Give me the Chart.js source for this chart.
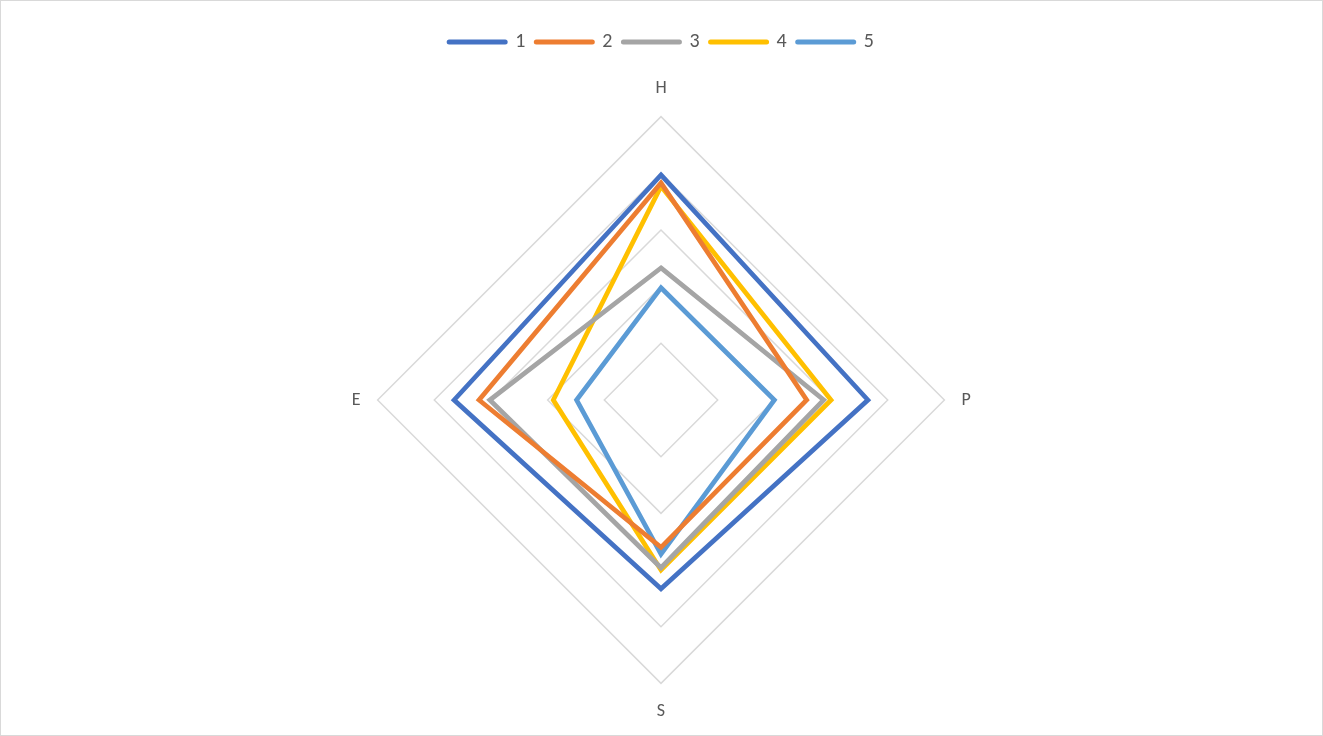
<!DOCTYPE html>
<html>
<head>
<meta charset="utf-8">
<script src="https://cdn.jsdelivr.net/npm/chart.js@4/dist/chart.umd.min.js"></script>
<style>
  html, body { margin: 0; padding: 0; background: #ffffff; }
  canvas { display: block; }
</style>
</head>
<body>
<canvas id="chart" width="1323" height="736"></canvas>
<script>
// Axes of the radar, clockwise from the top
const axes = ['H', 'P', 'S', 'E'];
const seriesNames = ['1', '2', '3', '4', '5'];

// Values per series, in the order of the axes above
const series1 = [3.97, 3.65, 3.33, 3.65];
const series2 = [3.83, 2.57, 2.60, 3.21];
const series3 = [2.33, 2.87, 2.96, 3.02];
const series4 = [3.77, 3.00, 3.00, 1.90];
const series5 = [1.98, 2.00, 2.72, 1.49];

const colors = ['#4472C4', '#ED7D31', '#A5A5A5', '#FFC000', '#5B9BD5'];
const values = [series1, series2, series3, series4, series5];

const textColor = '#595959';
const fontFamily = 'Calibri, Carlito, "Open Sans", "Liberation Sans", sans-serif';

// Fixed legend block height so the plot sits where it should
const legendHeightPlugin = {
  id: 'legendHeight',
  beforeInit(chart) {
    const origFit = chart.legend.fit;
    chart.legend.fit = function () {
      origFit.call(this);
      this.height = 57;
    };
  }
};

// Thin frame around the whole chart
const framePlugin = {
  id: 'frame',
  afterDraw(chart) {
    const ctx = chart.ctx;
    ctx.save();
    ctx.strokeStyle = '#d9d9d9';
    ctx.lineWidth = 1;
    ctx.strokeRect(0.5, 0.5, chart.width - 1, chart.height - 1);
    ctx.restore();
  }
};

new Chart(document.getElementById('chart'), {
  type: 'radar',
  data: {
    labels: axes,
    datasets: seriesNames.map((name, i) => ({
      label: name,
      data: values[i],
      borderColor: colors[i],
      backgroundColor: 'rgba(0,0,0,0)',
      borderWidth: 4.75,
      fill: false,
      pointRadius: 0,
      pointHoverRadius: 0,
      borderJoinStyle: 'miter'
    }))
  },
  options: {
    responsive: false,
    animation: false,
    layout: { padding: { top: 21, bottom: 13, left: 0, right: 0 } },
    plugins: {
      legend: {
        position: 'top',
        labels: {
          usePointStyle: true,
          pointStyle: 'line',
          pointStyleWidth: 56,
          padding: 11,
          color: textColor,
          font: { family: fontFamily, size: 20 },
          generateLabels(chart) {
            return chart.data.datasets.map((ds, i) => ({
              text: ds.label,
              strokeStyle: ds.borderColor,
              fillStyle: ds.borderColor,
              lineWidth: 5,
              lineCap: 'round',
              pointStyle: 'line',
              fontColor: textColor,
              hidden: false,
              datasetIndex: i
            }));
          }
        }
      },
      tooltip: { enabled: false }
    },
    scales: {
      r: {
        min: 0,
        max: 5,
        ticks: { stepSize: 1, display: false },
        angleLines: { display: false },
        grid: { color: '#d9d9d9', lineWidth: 1.5 },
        pointLabels: {
          color: textColor,
          padding: 17,
          font: { family: fontFamily, size: 18 }
        }
      }
    }
  },
  plugins: [legendHeightPlugin, framePlugin]
});
</script>
</body>
</html>
